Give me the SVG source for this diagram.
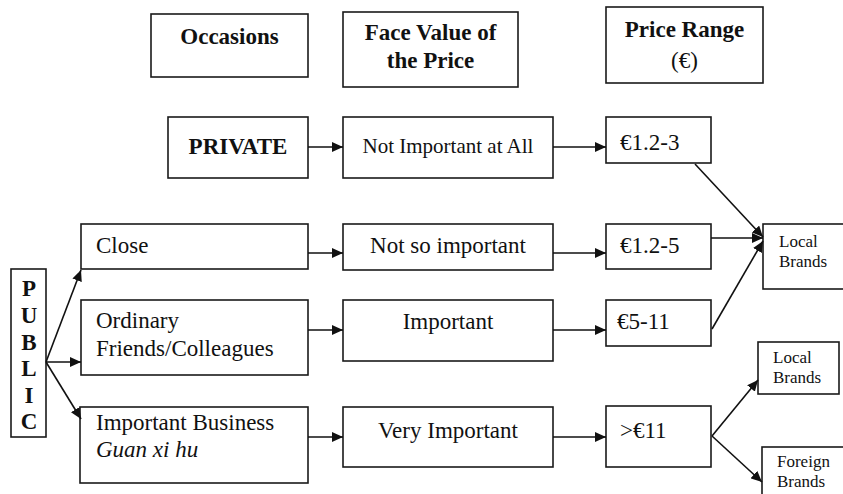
<svg xmlns="http://www.w3.org/2000/svg" width="843" height="494" viewBox="0 0 843 494" font-family="'Liberation Serif', 'Times New Roman', Times, 'DejaVu Serif', serif">
  <style>
    .box { fill: #ffffff; stroke: #1a1a1a; stroke-width: 1.6; }
    .t { font-size: 23px; fill: #111; }
    .b { font-weight: bold; }
    .sm { font-size: 17px; }
    .it { font-style: italic; }
    .mid { text-anchor: middle; }
    .link { fill: none; stroke: #111; stroke-width: 1.6; marker-end: url(#arrow); }
  </style>
  <defs>
    <marker id="arrow" markerUnits="userSpaceOnUse" markerWidth="12" markerHeight="10" refX="11" refY="5" orient="auto">
      <path d="M0,0 L11,5 L0,10 Z" fill="#111"/>
    </marker>
  </defs>
  <rect width="843" height="494" fill="#ffffff"/>

  <!-- column headers -->
  <g id="hdr-occasions">
    <rect class="box" x="151" y="14" width="157" height="63"/>
    <text class="t b mid" x="229.5" y="44">Occasions</text>
  </g>
  <g id="hdr-face-value">
    <rect class="box" x="343" y="12" width="175" height="75"/>
    <text class="t b mid" x="430.5" y="40">Face Value of</text>
    <text class="t b mid" x="430.5" y="68">the Price</text>
  </g>
  <g id="hdr-price-range">
    <rect class="box" x="606" y="7" width="157" height="76"/>
    <text class="t b mid" x="684.5" y="37">Price Range</text>
    <text class="t mid" x="684.5" y="68">(€)</text>
  </g>

  <!-- private row -->
  <g id="private">
    <rect class="box" x="168" y="117" width="140" height="61"/>
    <text class="t b mid" x="238" y="154">PRIVATE</text>
  </g>
  <g id="not-important-at-all">
    <rect class="box" x="343" y="117" width="210" height="61"/>
    <text class="t mid" x="448" y="153" style="font-size:21px">Not Important at All</text>
  </g>
  <g id="price-1-2-3">
    <rect class="box" x="606" y="117" width="105" height="46"/>
    <text class="t" x="620" y="150">€1.2-3</text>
  </g>

  <!-- public -->
  <g id="public">
    <rect class="box" x="11" y="269" width="35" height="168"/>
    <text class="t b mid" x="29" y="296">P</text>
    <text class="t b mid" x="29" y="322.5">U</text>
    <text class="t b mid" x="29" y="349.5">B</text>
    <text class="t b mid" x="29" y="376">L</text>
    <text class="t b mid" x="29" y="402.5">I</text>
    <text class="t b mid" x="29" y="429">C</text>
  </g>

  <g id="close">
    <rect class="box" x="81" y="224" width="227" height="45"/>
    <text class="t" x="96" y="253">Close</text>
  </g>
  <g id="ordinary">
    <rect class="box" x="81" y="300" width="227" height="75"/>
    <text class="t" x="96" y="328">Ordinary</text>
    <text class="t" x="96" y="356">Friends/Colleagues</text>
  </g>
  <g id="important-business">
    <rect class="box" x="80" y="407" width="228" height="76"/>
    <text class="t" x="96" y="430">Important Business</text>
    <text class="t it" x="96" y="457">Guan xi hu</text>
  </g>

  <g id="not-so-important">
    <rect class="box" x="343" y="224" width="210" height="46"/>
    <text class="t mid" x="448" y="253">Not so important</text>
  </g>
  <g id="important">
    <rect class="box" x="343" y="300" width="210" height="61"/>
    <text class="t mid" x="448" y="329">Important</text>
  </g>
  <g id="very-important">
    <rect class="box" x="343" y="407" width="210" height="60"/>
    <text class="t mid" x="448" y="438">Very Important</text>
  </g>

  <g id="price-1-2-5">
    <rect class="box" x="606" y="224" width="105" height="45"/>
    <text class="t" x="620" y="253">€1.2-5</text>
  </g>
  <g id="price-5-11">
    <rect class="box" x="606" y="300" width="105" height="46"/>
    <text class="t" x="617" y="329">€5-11</text>
  </g>
  <g id="price-over-11">
    <rect class="box" x="606" y="406" width="105" height="61"/>
    <text class="t" x="620" y="438">&gt;€11</text>
  </g>

  <!-- brand outcomes -->
  <g id="local-brands-a">
    <rect class="box" x="763" y="224" width="90" height="65"/>
    <text class="t sm" x="779" y="247">Local</text>
    <text class="t sm" x="779" y="267">Brands</text>
  </g>
  <g id="local-brands-b">
    <rect class="box" x="758" y="342" width="81" height="52"/>
    <text class="t sm" x="773" y="363">Local</text>
    <text class="t sm" x="773" y="383">Brands</text>
  </g>
  <g id="foreign-brands">
    <rect class="box" x="762" y="447" width="91" height="60"/>
    <text class="t sm" x="777" y="467">Foreign</text>
    <text class="t sm" x="777" y="487">Brands</text>
  </g>

  <!-- connectors -->
  <g id="connectors">
    <path class="link" d="M308,147 L343,147"/>
    <path class="link" d="M553,147 L606,147"/>

    <path class="link" d="M46,362 L81,270"/>
    <path class="link" d="M46,362 L81,362"/>
    <path class="link" d="M46,362 L81,419"/>

    <path class="link" d="M308,253 L343,253"/>
    <path class="link" d="M308,330 L343,330"/>
    <path class="link" d="M308,437 L343,437"/>

    <path class="link" d="M553,253 L606,253"/>
    <path class="link" d="M553,330 L606,330"/>
    <path class="link" d="M553,437 L606,437"/>

    <path class="link" d="M695,164 L763,237"/>
    <path class="link" d="M711,238 L763,238"/>
    <path class="link" d="M712,329 L763,241"/>

    <path class="link" d="M712,436 L758,380"/>
    <path class="link" d="M712,436 L762,482"/>
  </g>
</svg>
